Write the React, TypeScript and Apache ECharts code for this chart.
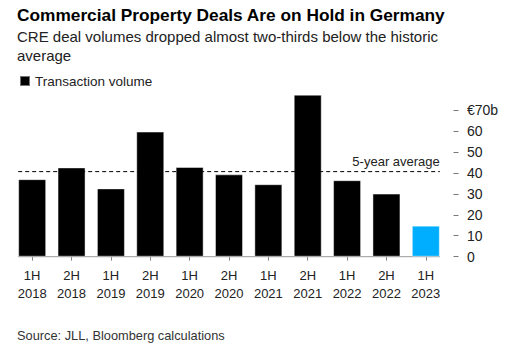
import React, { useEffect, useRef } from "react";
import * as echarts from "echarts";

const categories = [
  "1H\n2018", "2H\n2018", "1H\n2019", "2H\n2019", "1H\n2020", "2H\n2020",
  "1H\n2021", "2H\n2021", "1H\n2022", "2H\n2022", "1H\n2023",
];
const volumes = [37, 42.6, 32.6, 59.7, 42.8, 39.3, 34.6, 77.3, 36.5, 30.1, 14.8];
const highlightIndex = 10;
const fiveYearAverage = 40.6;
const yTicks = [0, 10, 20, 30, 40, 50, 60, 70];

const FONT = "'Liberation Sans', Arial, Helvetica, sans-serif";
const BAR_W = 28;

export default function App() {
  const ref = useRef<HTMLDivElement>(null);
  useEffect(() => {
    if (!ref.current) return;
    const chart = echarts.init(ref.current, undefined, { renderer: "svg" });
    chart.setOption({
      animation: false,
      backgroundColor: "#fff",
      textStyle: { fontFamily: FONT },
      title: {
        left: 17,
        top: 5,
        padding: 0,
        text: "Commercial Property Deals Are on Hold in Germany",
        subtext: "CRE deal volumes dropped almost two-thirds below the historic\naverage",
        itemGap: 2,
        textStyle: { fontFamily: FONT, fontSize: 17.3, fontWeight: "bold", color: "#000", lineHeight: 20 },
        subtextStyle: { fontFamily: FONT, fontSize: 15, color: "#222", lineHeight: 19 },
      },
      legend: {
        left: 14,
        top: 69,
        icon: "rect",
        itemWidth: 10,
        itemHeight: 10,
        itemGap: 6,
        textStyle: { fontFamily: FONT, fontSize: 13.5, color: "#222" },
        data: ["Transaction volume"],
      },
      grid: { left: 12.5, right: 70.5, top: 110, bottom: 94.3, containLabel: false },
      xAxis: {
        type: "category",
        data: categories,
        axisLine: { show: false },
        axisTick: { show: true, alignWithLabel: true, length: 4, lineStyle: { color: "#888" } },
        axisLabel: { fontFamily: FONT, fontSize: 13, color: "#222", lineHeight: 18, margin: 10 },
      },
      yAxis: {
        type: "value",
        position: "right",
        offset: 8,
        min: 0,
        max: 70,
        interval: 10,
        splitLine: { show: false },
        axisLine: { show: false },
        axisTick: { show: true, length: 5, lineStyle: { color: "#777" } },
        axisLabel: {
          fontFamily: FONT,
          fontSize: 14,
          color: "#222",
          margin: 13.5,
          formatter: (v: number) => (v === yTicks[yTicks.length - 1] ? "€" + v + "b" : String(v)),
        },
      },
      series: [
        {
          name: "Transaction volume",
          type: "bar",
          clip: false,
          barWidth: BAR_W,
          itemStyle: { color: "#000", borderColor: "rgba(255,255,255,0.45)", borderWidth: 1 },
          data: volumes.map((v, i) =>
            i === highlightIndex ? { value: v, itemStyle: { color: "#00AEFF" } } : v
          ),
        },
      ],
    });

    const first = chart.convertToPixel({ xAxisIndex: 0 }, categories[0]) as number;
    const last = chart.convertToPixel({ xAxisIndex: 0 }, categories[categories.length - 1]) as number;
    const x0 = first - BAR_W / 2;
    const x1 = last + BAR_W / 2;
    const y0 = chart.convertToPixel({ yAxisIndex: 0 }, 0) as number;
    const yAvg = chart.convertToPixel({ yAxisIndex: 0 }, fiveYearAverage) as number;

    chart.setOption({
      graphic: [
        {
          type: "line",
          z: 1,
          shape: { x1: x0, y1: y0, x2: x1, y2: y0 },
          style: { stroke: "#999", lineWidth: 1 },
        },
        {
          type: "line",
          z: 10,
          shape: { x1: x0, y1: yAvg, x2: x1, y2: yAvg },
          style: { stroke: "#000", lineWidth: 1, lineDash: [4, 3] },
        },
        {
          type: "text",
          z: 10,
          x: x1,
          y: yAvg - 4,
          style: {
            text: "5-year average",
            fontFamily: FONT,
            fontSize: 13,
            fill: "#222",
            align: "right",
            verticalAlign: "bottom",
          },
        },
        {
          type: "text",
          left: 17,
          top: 329,
          style: {
            text: "Source: JLL, Bloomberg calculations",
            fontFamily: FONT,
            fontSize: 12.8,
            fill: "#333",
          },
        },
      ],
    });

    return () => chart.dispose();
  }, []);
  return <div ref={ref} style={{ width: 516, height: 351, position: "absolute", left: 0, top: 0 }} />;
}
